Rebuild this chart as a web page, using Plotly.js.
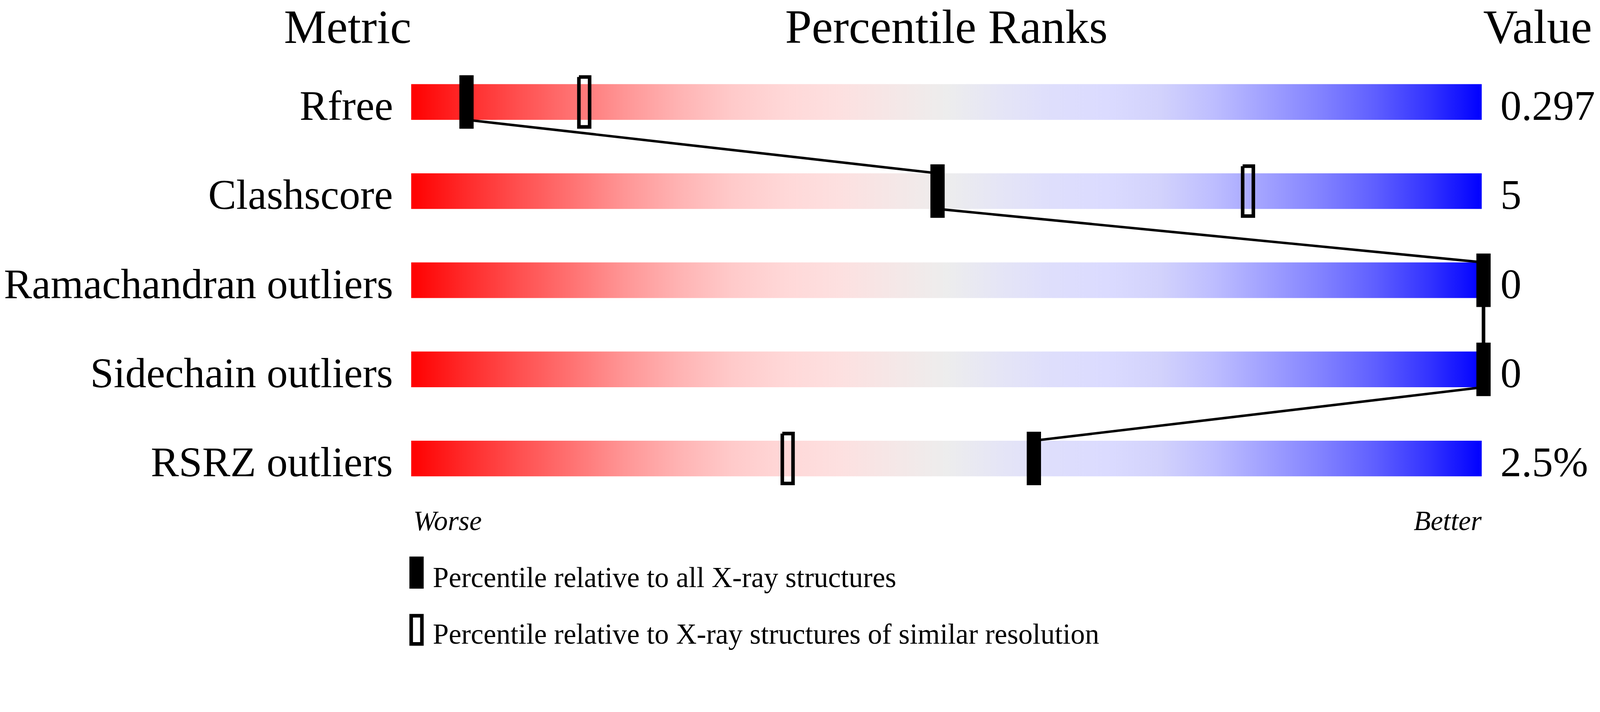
<!DOCTYPE html>
<html><head><meta charset="utf-8">
<script src="https://cdn.plot.ly/plotly-3.0.1.min.js"></script>
<style>html,body{margin:0;padding:0;background:#fff;overflow:hidden}</style>
</head><body><div id="chart"></div>
<script>
// ---- data ----
const metrics = ["Rfree", "Clashscore", "Ramachandran outliers", "Sidechain outliers", "RSRZ outliers"];
const values = ["0.297", "5", "0", "0", "2.5%"];
const pctAll = [5, 49, 100, 100, 58];
const pctSimilar = [16, 78, null, null, 35];
const headers = ["Metric", "Percentile Ranks", "Value"];
const scaleLabels = ["Worse", "Better"];
const legendLabels = ["Percentile relative to all X-ray structures",
                      "Percentile relative to X-ray structures of similar resolution"];

// ---- style / geometry (in reference pixels, scaled to the viewport) ----
const W = 4485, H = 1824;
const S = Math.min((window.innerWidth || W) / W, (window.innerHeight || H) / H);
const sp = v => v * S;
const PXU = 30, X0 = 1158;          // pixel of percentile 0, pixels per percentile
const ROW0 = 286, ROWSTEP = 250;    // pixel of first row, pixels per row
const xr = [-3, 103];
const plotL = X0 + xr[0] * PXU, plotR = X0 + xr[1] * PXU;
const yr = [(H - ROW0) / ROWSTEP, -ROW0 / ROWSTEP];
const FONT = "Liberation Serif, Times New Roman, serif";
const ASC = 0.891, DESC = 0.216;
const midShift = fs => (ASC - DESC) / 2 * fs; // baseline -> bbox middle
const px2x = px => (px - plotL) / (plotR - plotL);
const px2y = py => 1 - py / H;

const barOff = -5 / PXU;
const barHalf = 50 / ROWSTEP;
const grad = [
  [0.00, '#ff0000'], [0.05, '#ff2a2a'], [0.10, '#ff4f4f'], [0.15, '#ff7272'],
  [0.20, '#ff9696'], [0.25, '#ffb3b3'], [0.30, '#ffcaca'], [0.35, '#ffd8d8'],
  [0.40, '#fde0e0'], [0.45, '#f5e7e7'], [0.50, '#ededed'], [0.55, '#e5e5f6'],
  [0.60, '#dedefc'], [0.65, '#dbdbff'], [0.70, '#d2d2fc'], [0.75, '#bdbdff'],
  [0.80, '#a0a0ff'], [0.85, '#8282ff'], [0.90, '#5f5fff'], [0.95, '#3434ff'],
  [1.00, '#0000ff']
];

const traces = [];
// gradient sliders
metrics.forEach((m, i) => {
  const b0 = 0 + barOff, b1 = 100 + barOff;
  traces.push({
    type: 'scatter', mode: 'none', fill: 'toself',
    x: [b0, b1, b1, b0, b0],
    y: [i - barHalf, i - barHalf, i + barHalf, i + barHalf, i - barHalf],
    fillgradient: {type: 'horizontal', colorscale: grad},
    hoverinfo: 'skip', showlegend: false
  });
});
// connecting segments between consecutive "all structures" markers
for (let i = 0; i + 1 < pctAll.length; i++) {
  const xa = pctAll[i], xb = pctAll[i + 1];
  traces.push({type: 'scatter', mode: 'lines',
    x: [xa, xb], y: [i + barHalf, i + 1 - barHalf],
    line: {color: '#000', width: sp(xa === xb ? 10 : 7)},
    hoverinfo: 'skip', showlegend: false});
}

// filled markers
const fHW = 20 / PXU, fHH = 75 / ROWSTEP;
const fx = [], fy = [];
pctAll.forEach((p, i) => {
  if (p === null) return;
  fx.push(p - fHW, p + fHW, p + fHW, p - fHW, p - fHW, null);
  fy.push(i - fHH, i - fHH, i + fHH, i + fHH, i - fHH, null);
});
traces.push({type: 'scatter', mode: 'none', fill: 'toself', fillcolor: '#000',
  x: fx, y: fy, hoverinfo: 'skip', showlegend: false});

// open markers
const LW = 10;
const oHW = (20 - LW / 2) / PXU, oHH = (75 - LW / 2) / ROWSTEP;
const ox = [], oy = [];
pctSimilar.forEach((p, i) => {
  if (p === null) return;
  ox.push(p - oHW, p + oHW, p + oHW, p - oHW, p - oHW, null);
  oy.push(i - oHH, i - oHH, i + oHH, i + oHH, i - oHH, null);
});
traces.push({type: 'scatter', mode: 'lines', x: ox, y: oy,
  line: {color: '#000', width: sp(LW)}, hoverinfo: 'skip', showlegend: false});

// ---- text ----
const ann = [];
const txt = (text, x, xanchor, yc, fs, italic, extra) => Object.assign({
  text: text, x: x, xref: 'paper', xanchor: xanchor,
  y: yc, yref: 'paper', yanchor: 'middle',
  showarrow: false, borderpad: 0, borderwidth: 0,
  font: {family: FONT, size: sp(fs), color: '#000', style: italic ? 'italic' : 'normal'}
}, extra || {});

const HFS = 134, HBASE = 120;
ann.push(txt(headers[0], px2x(1153), 'right', px2y(HBASE - midShift(HFS)), HFS));
ann.push(txt(headers[1], px2x(2653), 'center', px2y(HBASE - midShift(HFS)), HFS));
ann.push(txt(headers[2], px2x(4157), 'left', px2y(HBASE - midShift(HFS)), HFS));

const LFS = 118;
metrics.forEach((m, i) => {
  const ys = sp(-(barHalf * ROWSTEP - midShift(LFS)));
  ann.push(txt(m, px2x(1102), 'right', i, LFS, false, {yref: 'y', yshift: ys}));
  ann.push(txt(values[i], px2x(4205), 'left', i, LFS, false, {yref: 'y', yshift: ys}));
});

const SFS = 78, SBASE = 1487;
ann.push(txt(scaleLabels[0], px2x(1159), 'left', px2y(SBASE - midShift(SFS)), SFS, true));
ann.push(txt(scaleLabels[1], px2x(4153), 'right', px2y(SBASE - midShift(SFS)), SFS, true));

const GFS = 80;
ann.push(txt(legendLabels[0], px2x(1214), 'left', px2y(1647 - midShift(GFS)), GFS));
ann.push(txt(legendLabels[1], px2x(1214), 'left', px2y(1806 - midShift(GFS)), GFS));

const shapes = [
  {type: 'rect', xref: 'paper', yref: 'paper', x0: px2x(1148), x1: px2x(1188),
   y0: px2y(1651), y1: px2y(1561), fillcolor: '#000', line: {width: 0}},
  {type: 'rect', xref: 'paper', yref: 'paper', x0: px2x(1148 + LW / 2), x1: px2x(1188 - LW / 2),
   y0: px2y(1811 - LW / 2), y1: px2y(1722 + LW / 2), fillcolor: 'rgba(0,0,0,0)',
   line: {width: sp(LW), color: '#000'}}
];

const layout = {
  width: sp(W), height: sp(H),
  margin: {l: sp(plotL), r: sp(W - plotR), t: 0, b: 0, pad: 0},
  paper_bgcolor: '#fff', plot_bgcolor: '#fff',
  showlegend: false,
  xaxis: {range: xr, visible: false, fixedrange: true},
  yaxis: {range: yr, visible: false, fixedrange: true},
  annotations: ann, shapes: shapes
};
Plotly.newPlot('chart', traces, layout, {staticPlot: true, displayModeBar: false});
</script>
</body></html>
